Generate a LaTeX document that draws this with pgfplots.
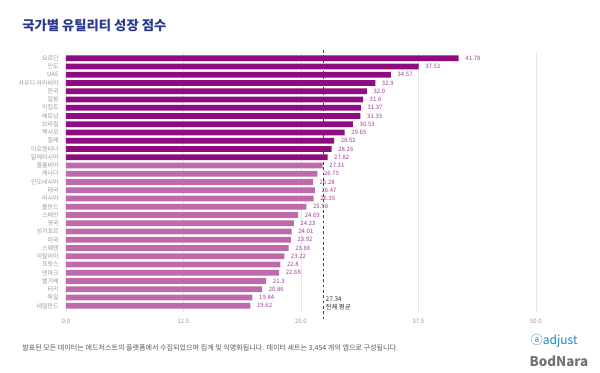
\documentclass[border=0pt]{standalone}
\usepackage{pgfplots}
\pgfplotsset{compat=1.18}
\usepackage{pgfplotstable}
\usepackage{fontspec}
\setmainfont{Noto Sans CJK KR}
\definecolor{dark}{HTML}{8E0C80}
\definecolor{light}{HTML}{BE6AAC}
\definecolor{vlab}{HTML}{A0409A}
\definecolor{titleblue}{HTML}{2B3A8F}
\definecolor{gridc}{HTML}{E8E8E8}
\definecolor{tickc}{HTML}{999999}
\pgfplotstableread{
idx val lab
0 41.78 41.78
1 37.52 37.52
2 34.57 34.57
3 32.9 32.9
4 32.0 32.0
5 31.6 31.6
6 31.37 31.37
7 31.33 31.33
8 30.53 30.53
9 29.65 29.65
10 28.52 28.52
11 28.26 28.26
12 27.82 27.82
}\darktab
\pgfplotstableread{
idx val lab
13 27.31 27.31
14 26.75 26.75
15 26.28 26.28
16 26.47 26.47
17 26.35 26.35
18 25.58 25.58
19 24.69 24.69
20 24.23 24.23
21 24.01 24.01
22 23.92 23.92
23 23.68 23.68
24 23.22 23.22
25 22.8 22.8
26 22.68 22.68
27 21.3 21.3
28 20.86 20.86
29 19.84 19.84
30 19.62 19.62
}\lighttab
\begin{document}
\begin{tikzpicture}
\fill[white] (0pt,0pt) rectangle (450pt,279pt);
\node[anchor=west,font=\fontsize{10}{12}\selectfont\bfseries,text=titleblue,inner sep=0] at (16.5pt,260pt) {국가별 유틸리티 성장 점수};
\begin{axis}[
  at={(49.5pt,45pt)}, anchor=south west,
  scale only axis, width=352.5pt, height=195pt,
  xmin=0, xmax=50, ymin=-0.75, ymax=30.75, y dir=reverse,
  xtick={0,12.5,25,37.5,50},
  xticklabels={0.0,12.5,25.0,37.5,50.0},
  ytick={0,...,30},
  yticklabels={요르단,인도,UAE,사우디 아라비아,한국,일본,이집트,베트남,브라질,멕시코,칠레,아르헨티나,말레이시아,콜롬비아,캐나다,인도네시아,태국,러시아,폴란드,스페인,영국,싱가포르,미국,스웨덴,이탈리아,프랑스,덴마크,벨기에,터키,독일,네덜란드},
  ticklabel style={font=\fontsize{4.5}{5}\selectfont, text=tickc},
  /pgf/number format/assume math mode=true,
  xmajorgrids, major grid style={gridc, line width=0.5pt},
  axis line style={draw=none}, major tick length=0pt,
  xticklabel style={yshift=-2pt},
  yticklabel style={xshift=-2pt},
  clip=false,
  barstyle/.style={xbar, bar width=4.3pt, bar shift=0pt, draw=none,
    nodes near coords, point meta=explicit symbolic,
    every node near coord/.append style={font=\fontsize{4.5}{5}\selectfont, text=vlab, anchor=west, xshift=1.5pt}},
]
\addplot[barstyle, fill=dark] table[x=val, y=idx, meta=lab]{\darktab};
\addplot[barstyle, fill=light] table[x=val, y=idx, meta=lab]{\lighttab};
\addplot[draw=black!75, line width=0.6pt, dash pattern=on 2pt off 2pt, mark=none] coordinates {(27.34,-1.0) (27.34,31.6)};
\node[anchor=north west, align=left, font=\fontsize{4.8}{5.6}\selectfont, text=black!80, inner sep=0] at (axis cs:27.6,28.9) {27.34\\전체 평균};
\end{axis}
\node[anchor=west, font=\fontsize{5.3}{6}\selectfont, text=black!65, inner sep=0] at (16.5pt,18pt) {발표된 모든 데이터는 애드저스트의 플랫폼에서 수집되었으며 집계 및 익명화됩니다. 데이터 세트는 3,454 개의 앱으로 구성됩니다.};
\node[anchor=west, font=\fontsize{9}{10}\selectfont, text=titleblue!60!cyan, inner sep=0] at (398pt,23pt) {ⓐadjust};
\node[anchor=west, font=\fontsize{10}{11}\selectfont\bfseries, text=black!55, inner sep=0] at (397pt,8pt) {BodNara};
\end{tikzpicture}
\end{document}
